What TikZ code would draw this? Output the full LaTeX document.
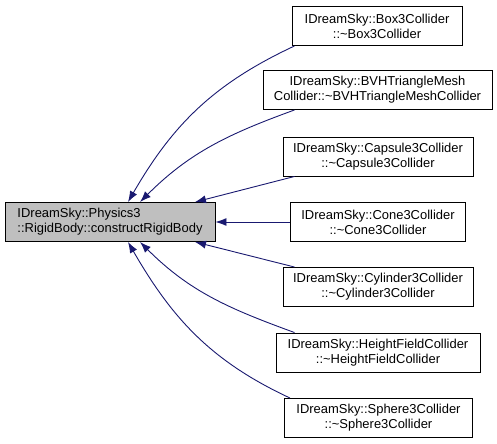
\documentclass[tikz,border=0pt]{standalone}
\usepackage{fontspec}
\setmainfont{Liberation Sans}
\usetikzlibrary{arrows.meta}
\definecolor{canhxanh}{HTML}{191970}
\definecolor{nenxam}{HTML}{BFBFBF}
\begin{document}
\begin{tikzpicture}[x=1bp,y=1bp,
    hop/.style={draw=black,line width=0.9bp,inner sep=0pt,minimum height=39bp,font=\fontsize{13}{15}\selectfont},
    canh/.style={draw=canhxanh,line width=0.9bp,-{Latex[length=11bp,width=8bp]}}]
    % Khung hình
    \useasboundingbox (0,0) rectangle (497,-444);
    
    % Nút chính
    \node[hop,fill=nenxam,align=left,minimum width=210bp] (main) at (110,-222) {IDreamSky::Physics3\\::RigidBody::constructRigidBody};
    
    % Các nút bên phải
    \node[hop,align=center,minimum width=170bp] (box) at (377,-26) {IDreamSky::Box3Collider\\::\textasciitilde Box3Collider};
    \node[hop,align=center,minimum width=229bp] (bvh) at (377.5,-90) {IDreamSky::BVHTriangleMesh\\Collider::\textasciitilde BVHTriangleMeshCollider};
    \node[hop,align=center,minimum width=190bp] (capsule) at (378,-156.5) {IDreamSky::Capsule3Collider\\::\textasciitilde Capsule3Collider};
    \node[hop,align=center,minimum width=175bp] (cone) at (378,-222) {IDreamSky::Cone3Collider\\::\textasciitilde Cone3Collider};
    \node[hop,align=center,minimum width=190bp] (cylinder) at (378,-287) {IDreamSky::Cylinder3Collider\\::\textasciitilde Cylinder3Collider};
    \node[hop,align=center,minimum width=204bp] (height) at (378,-352.5) {IDreamSky::HeightFieldCollider\\::\textasciitilde HeightFieldCollider};
    \node[hop,align=center,minimum width=188bp] (sphere) at (378.5,-418) {IDreamSky::Sphere3Collider\\::\textasciitilde Sphere3Collider};
    
    % Vẽ các mũi tên
    \draw[canh] ([xshift=3bp]box.south west) to[out=205,in=60] ([xshift=18bp]main.north);
    \draw[canh] ([xshift=32bp]bvh.south west) to[out=200,in=45] ([xshift=30bp]main.north);
    \draw[canh] ([xshift=12bp]capsule.south west) -- ([xshift=85bp]main.north);
    \draw[canh] (cone.west) -- (main.east);
    \draw[canh] ([xshift=12bp]cylinder.north west) -- ([xshift=85bp]main.south);
    \draw[canh] ([xshift=19bp]height.north west) to[out=160,in=-45] ([xshift=30bp]main.south);
    \draw[canh] ([xshift=6bp]sphere.north west) to[out=155,in=-60] ([xshift=18bp]main.south);
\end{tikzpicture}
\end{document}
